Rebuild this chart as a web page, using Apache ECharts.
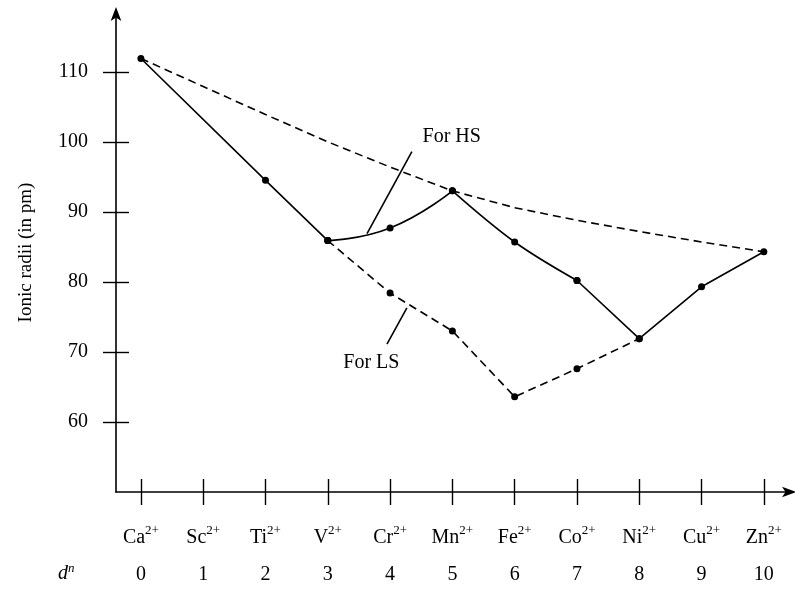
<!DOCTYPE html>
<html>
<head>
<meta charset="utf-8">
<script src="https://cdn.jsdelivr.net/npm/echarts@6/dist/echarts.min.js"></script>
<style>
html,body{margin:0;padding:0;background:#fff;}
#chart{width:795px;height:594px;}
</style>
</head>
<body>
<div id="chart"></div>
<script>
// ---- data ----
const ions = ['Ca', 'Sc', 'Ti', 'V', 'Cr', 'Mn', 'Fe', 'Co', 'Ni', 'Cu', 'Zn'];
const dn = [0, 1, 2, 3, 4, 5, 6, 7, 8, 9, 10];
const hsRadii = [111.9, null, 94.5, 85.9, 87.7, 93.0, 85.7, 80.2, 71.9, 79.3, 84.3];
const lsRadii = [null, null, null, 85.9, 78.4, 73.0, 63.6, 67.6, 71.9, null, null];
const trendRadii = [111.9, 107.9, 103.9, 100.0, 96.4, 93.0, 90.6, 88.8, 87.2, 85.7, 84.3];
const yTicks = [60, 70, 80, 90, 100, 110];
const hsNote = { text: 'For HS', at: [4.99, 100.8], line: [[3.63, 86.9], [4.35, 98.6]] };
const lsNote = { text: 'For LS', at: [3.70, 68.4], line: [[3.95, 71.1], [4.27, 76.3]] };

function pts(arr, from, to) {
  const out = [];
  for (let i = from; i <= to; i++) if (arr[i] != null) out.push([dn[i], arr[i]]);
  return out;
}

const FONT = '"Liberation Serif", "DejaVu Serif", serif';
const INK = '#000';

const chart = echarts.init(document.getElementById('chart'), null, { renderer: 'canvas' });

const xBase = {
  type: 'value', min: -0.4, max: 10.42, gridIndex: 0,
  splitLine: { show: false }
};
const yBase = {
  type: 'value', min: 50, max: 118.4, gridIndex: 0,
  splitLine: { show: false }
};

const lineStyleSolid = { color: INK, width: 1.6 };
const lineStyleDash = { color: INK, width: 1.6, type: [8, 5] };

const option = {
  backgroundColor: '#fff',
  animation: false,
  grid: { left: 116, right: 5, top: 13, bottom: 102 },
  xAxis: [
    Object.assign({}, xBase, {
      position: 'bottom',
      axisLine: { show: true, onZero: false, lineStyle: { color: INK, width: 1.6 }, symbol: ['none', 'arrow'], symbolSize: [8, 14], symbolOffset: [0, 6] },
      axisTick: { show: true, length: 13, lineStyle: { color: INK, width: 1.4 }, customValues: dn },
      axisLabel: {
        show: true, customValues: dn, margin: 27,
        formatter: function (v) { return '{b|' + ions[v] + '}{s|2+}\n{n|' + v + '}'; },
        rich: {
          b: { fontFamily: FONT, fontSize: 20, color: INK, lineHeight: 37 },
          s: { fontFamily: FONT, fontSize: 13, color: INK, lineHeight: 37, padding: [0, 0, 13, 0] },
          n: { fontFamily: FONT, fontSize: 20, color: INK, lineHeight: 37 }
        }
      }
    }),
    Object.assign({}, xBase, {
      position: 'bottom',
      axisLine: { show: false, onZero: false },
      axisTick: { show: true, inside: true, length: 13, lineStyle: { color: INK, width: 1.4 }, customValues: dn },
      axisLabel: { show: false }
    })
  ],
  yAxis: [
    Object.assign({}, yBase, {
      position: 'left',
      name: 'Ionic radii (in pm)', nameLocation: 'middle', nameGap: 80,
      nameTextStyle: { fontFamily: FONT, fontSize: 19, color: INK },
      axisLine: { show: true, onZero: false, lineStyle: { color: INK, width: 1.6 }, symbol: ['none', 'arrow'], symbolSize: [8, 14], symbolOffset: [0, 6] },
      axisTick: { show: true, length: 13, lineStyle: { color: INK, width: 1.4 }, customValues: yTicks },
      axisLabel: { show: true, customValues: yTicks, margin: 28, fontFamily: FONT, fontSize: 20, color: INK }
    }),
    Object.assign({}, yBase, {
      position: 'left',
      axisLine: { show: false, onZero: false },
      axisTick: { show: true, inside: true, length: 13, lineStyle: { color: INK, width: 1.4 }, customValues: yTicks },
      axisLabel: { show: false }
    })
  ],
  graphic: [
    {
      type: 'text', left: 58, top: 562,
      style: {
        text: '{d|d}{s|n}',
        rich: {
          d: { fontFamily: FONT, fontStyle: 'italic', fontSize: 20, fill: INK },
          s: { fontFamily: FONT, fontStyle: 'italic', fontSize: 13, fill: INK, padding: [0, 0, 10, 0] }
        }
      }
    }
  ],
  series: [
    // upper dashed trend
    {
      type: 'line', data: pts(trendRadii, 0, 10), smooth: false, showSymbol: false,
      lineStyle: lineStyleDash, z: 2
    },
    // LS dashed branch
    {
      type: 'line', data: pts(lsRadii, 3, 8), smooth: false,
      symbol: 'circle', symbolSize: 7, itemStyle: { color: INK },
      lineStyle: lineStyleDash, z: 3
    },
    // HS solid: Ca - Ti - V
    {
      type: 'line', data: pts(hsRadii, 0, 3), smooth: false,
      symbol: 'circle', symbolSize: 7, itemStyle: { color: INK },
      lineStyle: lineStyleSolid, z: 4
    },
    // HS solid: V - Cr - Mn (curved)
    {
      type: 'line', data: pts(hsRadii, 3, 5), smooth: 0.5,
      symbol: 'circle', symbolSize: 7, itemStyle: { color: INK },
      lineStyle: lineStyleSolid, z: 4
    },
    // HS solid: Mn - Fe - Co (curved)
    {
      type: 'line', data: pts(hsRadii, 5, 7), smooth: 0.35,
      symbol: 'circle', symbolSize: 7, itemStyle: { color: INK },
      lineStyle: lineStyleSolid, z: 4
    },
    // HS solid: Co - Ni - Cu - Zn
    {
      type: 'line', data: pts(hsRadii, 7, 10), smooth: false,
      symbol: 'circle', symbolSize: 7, itemStyle: { color: INK },
      lineStyle: lineStyleSolid, z: 4
    },
    // annotations
    {
      type: 'line', data: hsNote.line, showSymbol: false, symbol: 'none',
      lineStyle: { color: INK, width: 1.6 }, z: 5, silent: true
    },
    {
      type: 'line', data: lsNote.line, showSymbol: false, symbol: 'none',
      lineStyle: { color: INK, width: 1.6 }, z: 5, silent: true
    },
    {
      type: 'scatter', data: [hsNote.at, lsNote.at], symbolSize: 1, silent: true,
      itemStyle: { opacity: 0 },
      label: {
        show: true, position: 'inside',
        formatter: function (p) { return p.dataIndex === 0 ? hsNote.text : lsNote.text; },
        fontFamily: FONT, fontSize: 20, color: INK, opacity: 1
      }
    }
  ]
};
chart.setOption(option);
</script>
</body>
</html>
